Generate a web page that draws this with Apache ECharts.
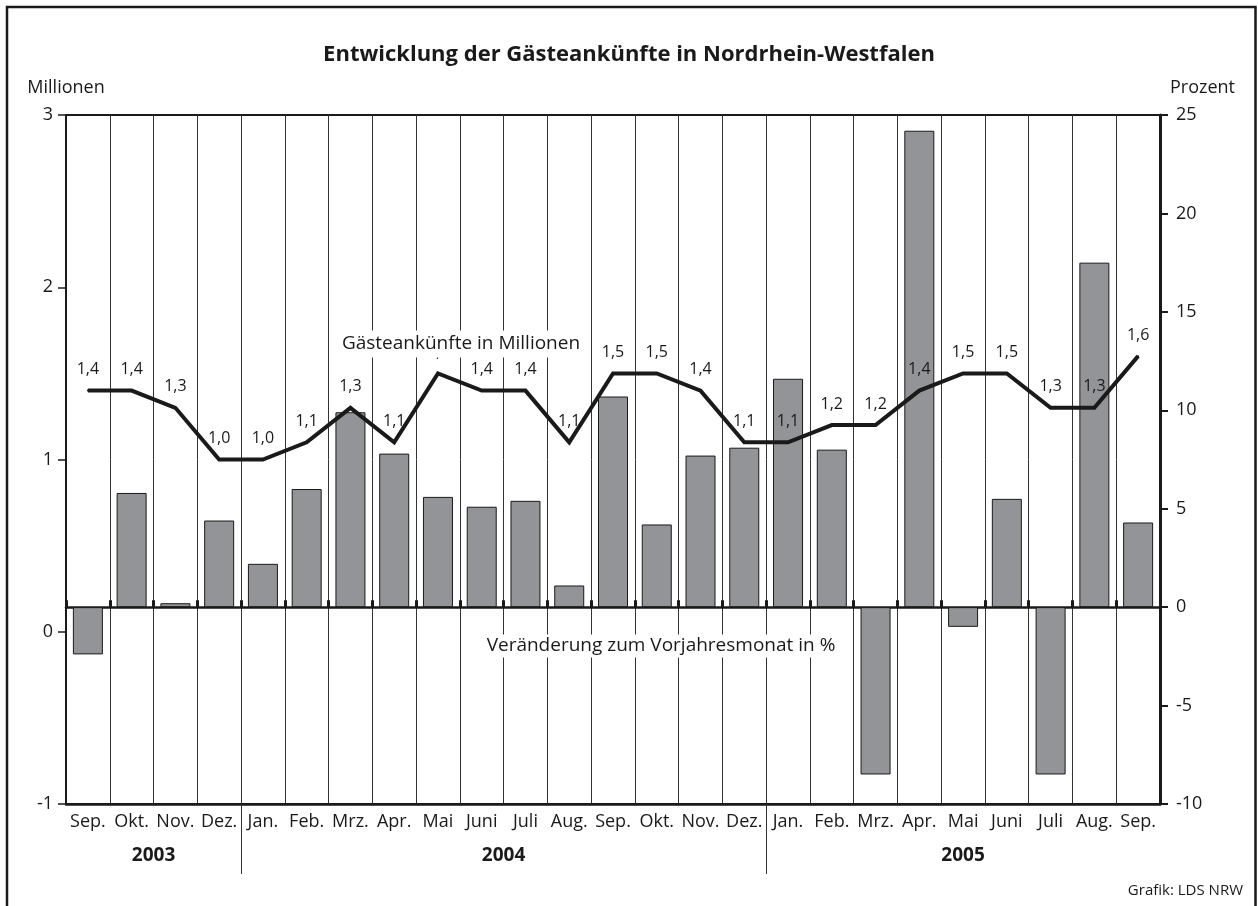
<!DOCTYPE html>
<html>
<head>
<meta charset="utf-8">
<script src="https://cdn.jsdelivr.net/npm/echarts@6/dist/echarts.min.js"></script>
<style>
html,body{margin:0;padding:0;background:#fff;}
#chart{width:1258px;height:906px;}
</style>
</head>
<body>
<div id="chart"></div>
<script>
// ---- data ----
const months = ['Sep.','Okt.','Nov.','Dez.','Jan.','Feb.','Mrz.','Apr.','Mai','Juni','Juli','Aug.',
                'Sep.','Okt.','Nov.','Dez.','Jan.','Feb.','Mrz.','Apr.','Mai','Juni','Juli','Aug.','Sep.'];
const arrivals = [1.4,1.4,1.3,1.0,1.0,1.1,1.3,1.1,1.5,1.4,1.4,1.1,1.5,1.5,1.4,1.1,1.1,1.2,1.2,1.4,1.5,1.5,1.3,1.3,1.6];
const changePct = [-2.4,5.8,0.2,4.4,2.2,6.0,9.9,7.8,5.6,5.1,5.4,1.1,10.7,4.2,7.7,8.1,11.6,8.0,-8.5,24.2,-1.0,5.5,-8.5,17.5,4.3];
const years = ['2003','2004','2005'];
const yearStart = [0,4,16];
const yearEnd = [3,15,24];
const leftTicks = {min:-1,max:3,interval:1};
const rightTicks = {min:-10,max:25,interval:5};

const FONT = '"Open Sans", "Noto Sans", sans-serif';
const INK = '#1a1a1a';

const chart = echarts.init(document.getElementById('chart'), null, {renderer:'canvas'});

const option = {
  animation:false,
  backgroundColor:'#fff',
  textStyle:{fontFamily:FONT,color:INK},
  title:{
    text:'Entwicklung der Gästeankünfte in Nordrhein-Westfalen',
    left:'center', top:39,
    textStyle:{fontFamily:FONT,fontSize:22,fontWeight:'bold',color:INK}
  },
  grid:{left:66,right:98,top:115,bottom:102,show:true,borderColor:INK,borderWidth:2,backgroundColor:'transparent'},
  xAxis:[
    {
      type:'category', data:months, position:'bottom', boundaryGap:true,
      axisLine:{onZero:false,lineStyle:{color:INK,width:2.5}},
      axisTick:{show:false},
      axisLabel:{interval:0,fontSize:18,margin:9,color:INK,fontFamily:FONT},
      splitLine:{show:true,interval:0,lineStyle:{color:'#333',width:1}}
    },
    {
      type:'category', data:months, position:'bottom', boundaryGap:true,
      axisLine:{onZero:true,onZeroAxisIndex:1,lineStyle:{color:INK,width:2.5}},
      axisTick:{show:true,inside:true,length:7,interval:0,lineStyle:{color:INK,width:3}},
      axisLabel:{show:false},
      splitLine:{show:false}
    }
  ],
  yAxis:[
    {
      type:'value', position:'left', min:leftTicks.min, max:leftTicks.max, interval:leftTicks.interval,
      name:'Millionen', nameLocation:'end', nameGap:18,
      nameTextStyle:{fontSize:18,color:INK,fontFamily:FONT},
      axisLine:{show:true,onZero:false,lineStyle:{color:INK,width:2}},
      axisTick:{show:true,length:8,lineStyle:{color:INK,width:1.5}},
      axisLabel:{fontSize:18,margin:13,color:INK,fontFamily:FONT},
      splitLine:{show:false}
    },
    {
      type:'value', position:'right', min:rightTicks.min, max:rightTicks.max, interval:rightTicks.interval,
      name:'Prozent', nameLocation:'end', nameGap:18,
      nameTextStyle:{fontSize:18,color:INK,fontFamily:FONT,align:'left',padding:[0,0,0,10]},
      axisLine:{show:true,onZero:false,lineStyle:{color:INK,width:3}},
      axisTick:{show:true,length:8,lineStyle:{color:INK,width:2}},
      axisLabel:{fontSize:18,margin:16,color:INK,fontFamily:FONT},
      splitLine:{show:false}
    }
  ],
  series:[
    {
      name:'Veränderung zum Vorjahresmonat in %',
      type:'bar', xAxisIndex:0, yAxisIndex:1, data:changePct, barWidth:30,
      itemStyle:{color:'#939497',borderColor:INK,borderWidth:1},
      z:3
    },
    {
      name:'Gästeankünfte in Millionen',
      type:'line', xAxisIndex:0, yAxisIndex:0, data:arrivals,
      symbol:'circle', symbolSize:2, showSymbol:true,
      itemStyle:{color:INK},
      lineStyle:{color:INK,width:4,join:'miter'},
      label:{show:true,position:'top',distance:12,fontSize:16,color:INK,fontFamily:FONT,
        formatter:(p)=>p.value.toFixed(1).replace('.',',')},
      z:5
    }
  ]
};
chart.setOption(option);

// year labels centred under their month spans, separators at year boundaries
const px = (i)=>chart.convertToPixel({xAxisIndex:0}, i);
const bottomY = chart.convertToPixel({yAxisIndex:0}, leftTicks.min);
const yearGraphics = [];
years.forEach((y,k)=>{
  yearGraphics.push({type:'text', z:100, style:{text:y,x:(px(yearStart[k])+px(yearEnd[k]))/2,y:856,
    textAlign:'center',textVerticalAlign:'middle',font:'bold 19px '+FONT,fill:INK}});
  if (k>0){
    const xb = Math.round((px(yearStart[k]-1)+px(yearStart[k]))/2)+0.5;
    yearGraphics.push({type:'line', z:100, shape:{x1:xb,y1:bottomY,x2:xb,y2:bottomY+70},
      style:{stroke:'#333',lineWidth:1}});
  }
});

chart.setOption({
  graphic:{elements:[
    {type:'rect', z:0, shape:{x:7,y:7,width:1248.5,height:920}, style:{fill:'none',stroke:INK,lineWidth:2.5}},
    {type:'text', z:100, style:{text:'Gästeankünfte in Millionen',x:461,y:344,textAlign:'center',textVerticalAlign:'middle',
      font:'19px '+FONT,fill:INK,backgroundColor:'#fff',padding:[2,3,6,3]}},
    {type:'text', z:100, style:{text:'Veränderung zum Vorjahresmonat in %',x:661,y:646,textAlign:'center',textVerticalAlign:'middle',
      font:'19px '+FONT,fill:INK,backgroundColor:'#fff',padding:[2,3]}},
    {type:'text', z:100, style:{text:'Grafik: LDS NRW',x:1243,y:891,textAlign:'right',textVerticalAlign:'middle',
      font:'15px '+FONT,fill:INK}}
  ].concat(yearGraphics)}
});
</script>
</body>
</html>
